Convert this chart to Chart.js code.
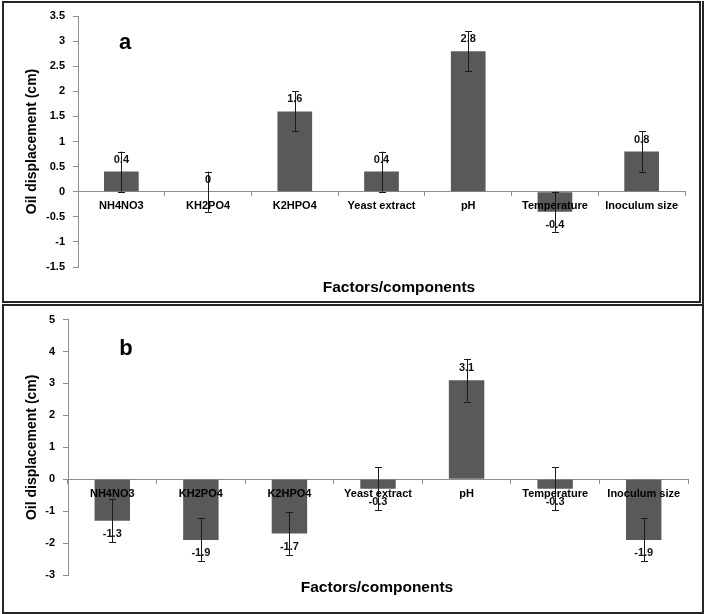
<!DOCTYPE html>
<html>
<head>
<meta charset="utf-8">
<script src="https://cdn.jsdelivr.net/npm/chart.js@4/dist/chart.umd.min.js"></script>
<style>
  body { margin: 0; background: #fff; width: 705px; height: 614px; position: relative; overflow: hidden; }
  .box { position: absolute; border: 2px solid #262626; box-sizing: border-box; }
  canvas { position: absolute; left: 0; }
</style>
</head>
<body>
<div class="box" style="left:2px;top:1px;width:699px;height:302px"></div>
<div class="box" style="left:2px;top:304px;width:702px;height:310px"></div>
<div style="position:absolute;left:702px;top:1px;width:2px;height:303px;background:#262626"></div>
<canvas id="chartA" width="705" height="302" style="top:0"></canvas>
<canvas id="chartB" width="705" height="309" style="top:305px"></canvas>
<script>
const categories = ['NH4NO3', 'KH2PO4', 'K2HPO4', 'Yeast extract', 'pH', 'Temperature', 'Inoculum size'];

// panel a
const valuesA = [0.4, 0, 1.6, 0.4, 2.8, -0.4, 0.8];
const errorsA = [0.4, 0.4, 0.4, 0.4, 0.4, 0.4, 0.4];
const yTicksA = [-1.5, -1, -0.5, 0, 0.5, 1, 1.5, 2, 2.5, 3, 3.5];

// panel b
const valuesB = [-1.3, -1.9, -1.7, -0.3, 3.1, -0.3, -1.9];
const errorsB = [0.67, 0.67, 0.67, 0.67, 0.67, 0.67, 0.67];
const yTicksB = [-3, -2, -1, 0, 1, 2, 3, 4, 5];

const yTitle = 'Oil displacement (cm)';
const xTitle = 'Factors/components';

const FONT = '"Liberation Sans", Arial, sans-serif';
const AXIS_COLOR = '#8e8e8e';

// error bars + value labels + panel texts
const extras = {
  id: 'extras',
  afterDatasetsDraw(chart, args, opts) {
    const ctx = chart.ctx;
    const y = chart.scales.y;
    const meta = chart.getDatasetMeta(0);
    const vals = chart.data.datasets[0].data;
    ctx.save();
    ctx.strokeStyle = '#1a1a1a';
    ctx.lineWidth = 1;
    meta.data.forEach((bar, i) => {
      const x = Math.round(bar.x) + 0.5;
      const top = y.getPixelForValue(vals[i] + opts.errors[i]);
      const bot = y.getPixelForValue(vals[i] - opts.errors[i]);
      ctx.beginPath();
      ctx.moveTo(x, top); ctx.lineTo(x, bot);
      ctx.moveTo(x - 3.5, Math.round(top) + 0.5); ctx.lineTo(x + 3.5, Math.round(top) + 0.5);
      ctx.moveTo(x - 3.5, Math.round(bot) + 0.5); ctx.lineTo(x + 3.5, Math.round(bot) + 0.5);
      ctx.stroke();
    });
    ctx.fillStyle = '#111';
    ctx.font = 'bold 11px ' + FONT;
    ctx.textAlign = 'center';
    ctx.textBaseline = 'middle';
    meta.data.forEach((bar, i) => {
      const py = y.getPixelForValue(vals[i]);
      ctx.fillText(String(vals[i]), bar.x, vals[i] >= 0 ? py - 12 : py + 13);
    });
    ctx.fillStyle = '#000';
    ctx.font = 'bold 22px ' + FONT;
    ctx.textBaseline = 'alphabetic';
    ctx.fillText(opts.panel, opts.panelX, opts.panelY);
    ctx.font = 'bold 15.5px ' + FONT;
    ctx.fillText(xTitle, opts.titleX, opts.titleY);
    ctx.restore();
  }
};

function makeChart(id, values, errors, yTicks, layout, textPos) {
  return new Chart(document.getElementById(id), {
    type: 'bar',
    data: {
      labels: categories,
      datasets: [{
        data: values,
        backgroundColor: '#595959',
        borderWidth: 0,
        barPercentage: 0.4,
        categoryPercentage: 1
      }]
    },
    options: {
      responsive: false,
      animation: false,
      layout: { padding: layout.padding },
      plugins: {
        legend: { display: false },
        tooltip: { enabled: false },
        extras: { errors: errors, ...textPos }
      },
      scales: {
        x: {
          position: { y: 0 },
          grid: { offset: true, drawOnChartArea: false, drawTicks: true, tickLength: 4, color: AXIS_COLOR },
          border: { color: AXIS_COLOR, width: 1 },
          ticks: {
            z: 1, // category names sit on top of the bars
            color: '#000',
            font: { family: FONT, weight: 'bold', size: 11 },
            padding: 4, maxRotation: 0, autoSkip: false
          }
        },
        y: {
          min: yTicks[0],
          max: yTicks[yTicks.length - 1],
          afterBuildTicks: s => { s.ticks = yTicks.map(v => ({ value: v })); },
          afterFit: s => { s.width = layout.yWidth; },
          grid: { drawOnChartArea: false, drawTicks: true, tickLength: 5, color: AXIS_COLOR },
          border: { color: AXIS_COLOR, width: 1 },
          ticks: {
            color: '#000',
            font: { family: FONT, weight: 'bold', size: 11 },
            padding: 8,
            callback: v => String(Math.round(v * 10) / 10)
          },
          title: {
            display: true,
            text: yTitle,
            color: '#000',
            font: { family: FONT, weight: 'bold', size: 14 },
            padding: { top: 4, bottom: 0 }
          }
        }
      }
    },
    plugins: [extras]
  });
}

makeChart('chartA', valuesA, errorsA, yTicksA,
  { padding: { left: 20, right: 20, top: 16, bottom: 35 }, yWidth: 58 },
  { panel: 'a', panelX: 125, panelY: 49, titleX: 399, titleY: 292 });

makeChart('chartB', valuesB, errorsB, yTicksB,
  { padding: { left: 20, right: 17, top: 14, bottom: 39 }, yWidth: 48 },
  { panel: 'b', panelX: 126, panelY: 50, titleX: 377, titleY: 287 });
</script>
</body>
</html>
